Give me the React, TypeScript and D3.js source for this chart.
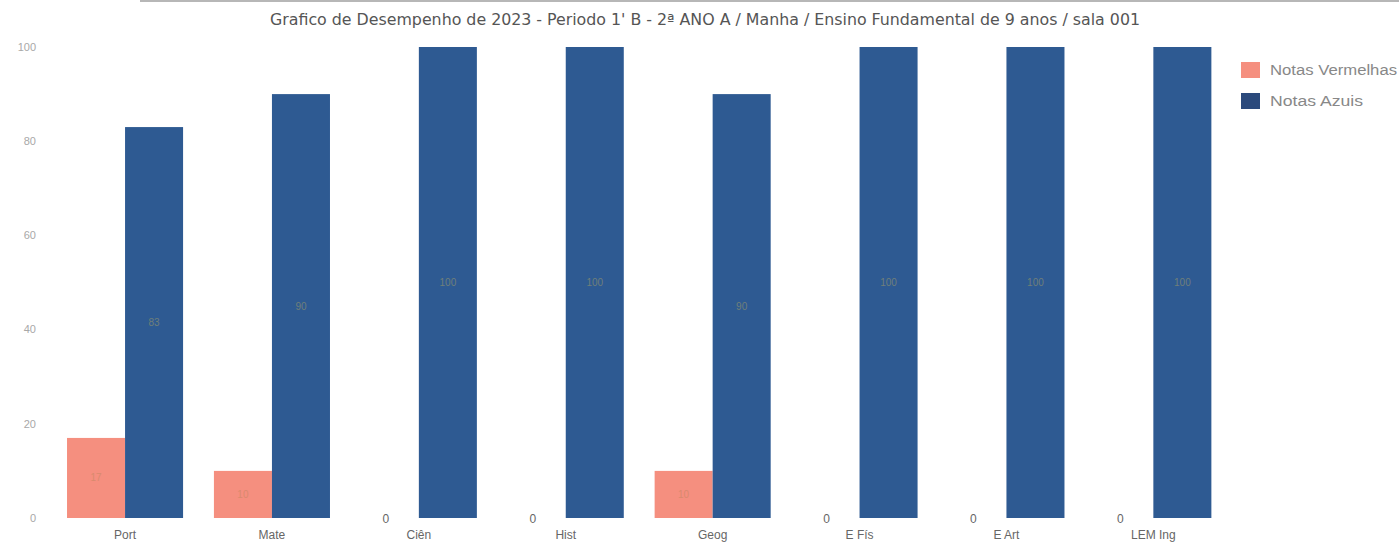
import React from "react";
import * as d3 from "d3";

const categories = ["Port", "Mate", "Ciên", "Hist", "Geog", "E Fís", "E Art", "LEM Ing"];
const notasVermelhas = [17, 10, 0, 0, 10, 0, 0, 0];
const notasAzuis = [83, 90, 100, 100, 90, 100, 100, 100];
const yTicks = [0, 20, 40, 60, 80, 100];
const seriesNames = ["Notas Vermelhas", "Notas Azuis"];
const title = "Grafico de Desempenho de 2023 - Periodo 1' B - 2ª ANO A / Manha / Ensino Fundamental de 9 anos / sala 001";

const W = 1399;
const H = 551;
const RED = "#F58F7F";
const BLUE = "#2E5A92";
const FONT = "'Liberation Sans Narrow', 'Arial Narrow', 'DejaVu Sans Condensed', 'Liberation Sans', Arial, sans-serif";
const FONT2 = "'Liberation Sans', Arial, sans-serif";

export default function App() {
  const x = d3.scaleBand<string>().domain(categories).range([51.6, 1226.8]).paddingInner(0.21).paddingOuter(0.105);
  const x1 = d3.scaleBand<string>().domain(seriesNames).range([0, x.bandwidth()]);
  const y = d3.scaleLinear().domain([0, 100]).range([518, 47]);

  const series = [notasVermelhas, notasAzuis];
  const colors = [RED, BLUE];
  const legendWidths = [127, 93];

  return (
    <svg width={W} height={H} style={{ position: "absolute", left: 0, top: 0, background: "#fff" }}>
      <line x1={140} x2={W} y1={1} y2={1} stroke="#9a9a9a" strokeWidth={2} opacity={0.7} />
      <text x={270} y={25} fontFamily={FONT} fontSize={16} fill="#555" textLength={870} lengthAdjust="spacingAndGlyphs">
        {title}
      </text>
      {yTicks.map((t) => (
        <text key={t} x={36} y={y(t)} dy="0.35em" textAnchor="end" fontFamily={FONT2} fontSize={11} fill="#a8a8a8">
          {t}
        </text>
      ))}
      {categories.map((c, i) => (
        <g key={c} transform={`translate(${x(c)},0)`}>
          {series.map((s, k) => {
            const v = s[i];
            const bx = x1(seriesNames[k])!;
            const bw = x1.bandwidth();
            if (v === 0) {
              return (
                <text key={k} x={bx + bw / 2 - 4} y={y(0) + 1} dy="0.35em" textAnchor="middle" fontFamily={FONT2} fontSize={12} fill="#666">
                  0
                </text>
              );
            }
            return (
              <g key={k}>
                <rect x={bx} y={y(v)} width={bw} height={y(0) - y(v)} fill={colors[k]} />
                <text x={bx + bw / 2} y={(y(v) + y(0)) / 2} dy="0.35em" textAnchor="middle" fontFamily={FONT2} fontSize={10}
                  fill={k === 0 ? "#d98a6e" : "#6f7f7a"}>
                  {v}
                </text>
              </g>
            );
          })}
          <text x={x.bandwidth() / 2} y={535} dy="0.35em" textAnchor="middle" fontFamily={FONT2} fontSize={12} fill="#666">
            {c}
          </text>
        </g>
      ))}
      {seriesNames.map((n, k) => (
        <g key={n} transform={`translate(1241,${62 + k * 31})`}>
          <rect x={0} y={0} width={19} height={16} fill={k === 0 ? RED : "#2B4A7C"} />
          <text x={29} y={8} dy="0.35em" fontFamily={FONT2} fontSize={14} fill="#888" textLength={legendWidths[k]} lengthAdjust="spacingAndGlyphs">
            {n}
          </text>
        </g>
      ))}
    </svg>
  );
}
